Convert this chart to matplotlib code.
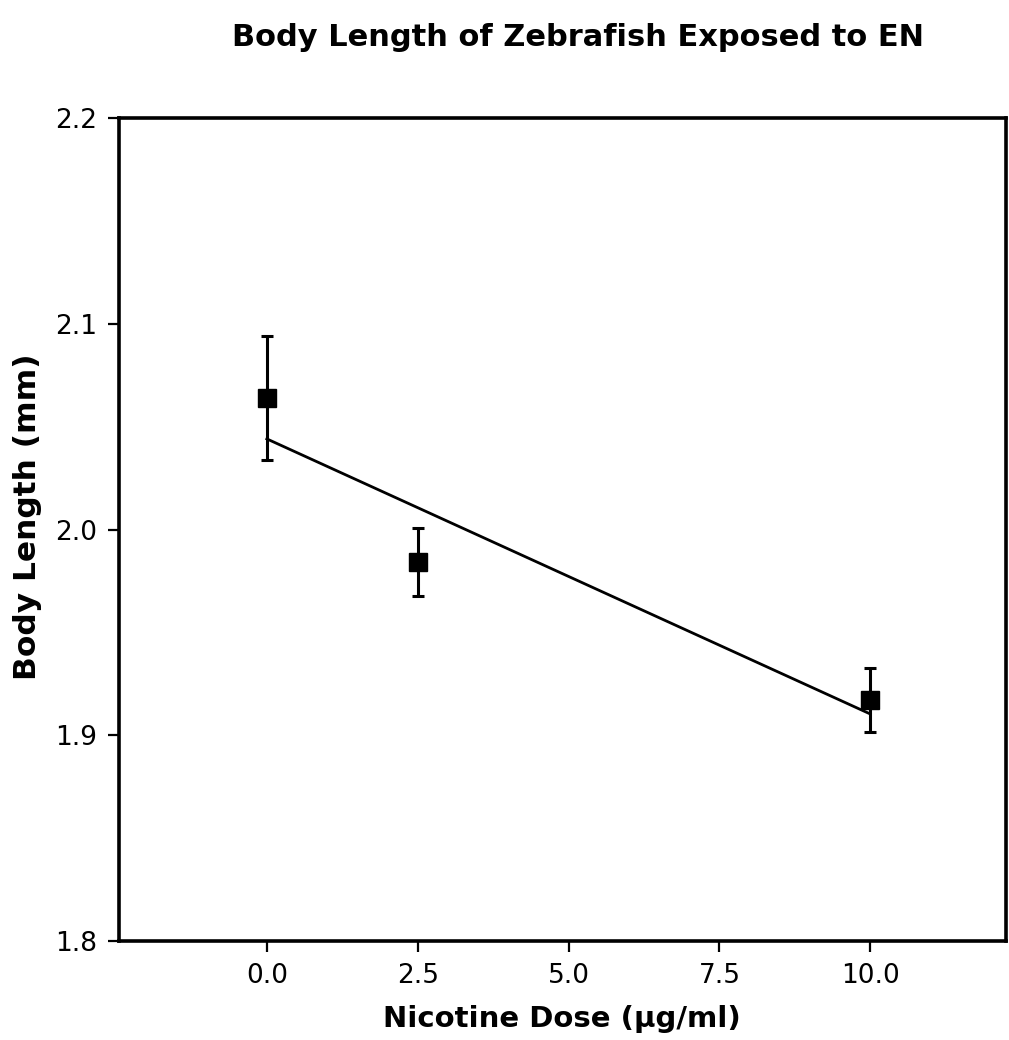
import numpy as np
import matplotlib
matplotlib.use("Agg")
import matplotlib.pyplot as plt

# Data
dose = [0.0, 2.5, 10.0]
body_length = [2.064, 1.984, 1.917]
sem = [0.030, 0.0165, 0.0155]

x_ticks = [0.0, 2.5, 5.0, 7.5, 10.0]
x_tick_labels = ["0.0", "2.5", "5.0", "7.5", "10.0"]
y_ticks = [1.8, 1.9, 2.0, 2.1, 2.2]
y_tick_labels = ["1.8", "1.9", "2.0", "2.1", "2.2"]

title = "Body Length of Zebrafish Exposed to EN"
xlabel = "Nicotine Dose (\u00b5g/ml)"
ylabel = "Body Length (mm)"

plt.rcParams['font.family'] = ['DejaVu Sans']

fig = plt.figure(figsize=(10.09, 10.40), dpi=100)
W, H = 1009, 1040
left, right, top, bottom = 119, 1006, 118, 941
ax = fig.add_axes([left / W, 1 - bottom / H, (right - left) / W, (bottom - top) / H])

# regression line through the means
slope, intercept = np.polyfit(dose, body_length, 1)
xs = np.array([min(dose), max(dose)])
ax.plot(xs, slope * xs + intercept, color='black', lw=2.0, zorder=2)

ax.errorbar(dose, body_length, yerr=sem, fmt='s', color='black', ms=13,
            ecolor='black', elinewidth=2.2, capsize=4.5, capthick=2.2, zorder=3)

ax.set_xlim(-2.45, 12.25)
ax.set_ylim(1.8, 2.2)
ax.set_xticks(x_ticks)
ax.set_xticklabels(x_tick_labels)
ax.set_yticks(y_ticks)
ax.set_yticklabels(y_tick_labels)

for s in ax.spines.values():
    s.set_linewidth(2.6)
ax.tick_params(direction='out', length=8, width=1.6, labelsize=19)
ax.tick_params(axis='y', pad=8)
ax.tick_params(axis='x', pad=8)

ax.set_xlabel(xlabel, fontsize=21, fontweight='bold')
ax.xaxis.set_label_coords(0.499, (941 - 1005) / 823)
ax.set_ylabel(ylabel, fontsize=22.5, fontweight='bold')
ax.yaxis.set_label_coords((42 - 119) / 887, 0.515)
fig.text(578 / W, 1 - 37 / H, title, fontsize=22, fontweight='bold',
         ha='center', va='center')

fig.savefig("out.png", dpi=100)
